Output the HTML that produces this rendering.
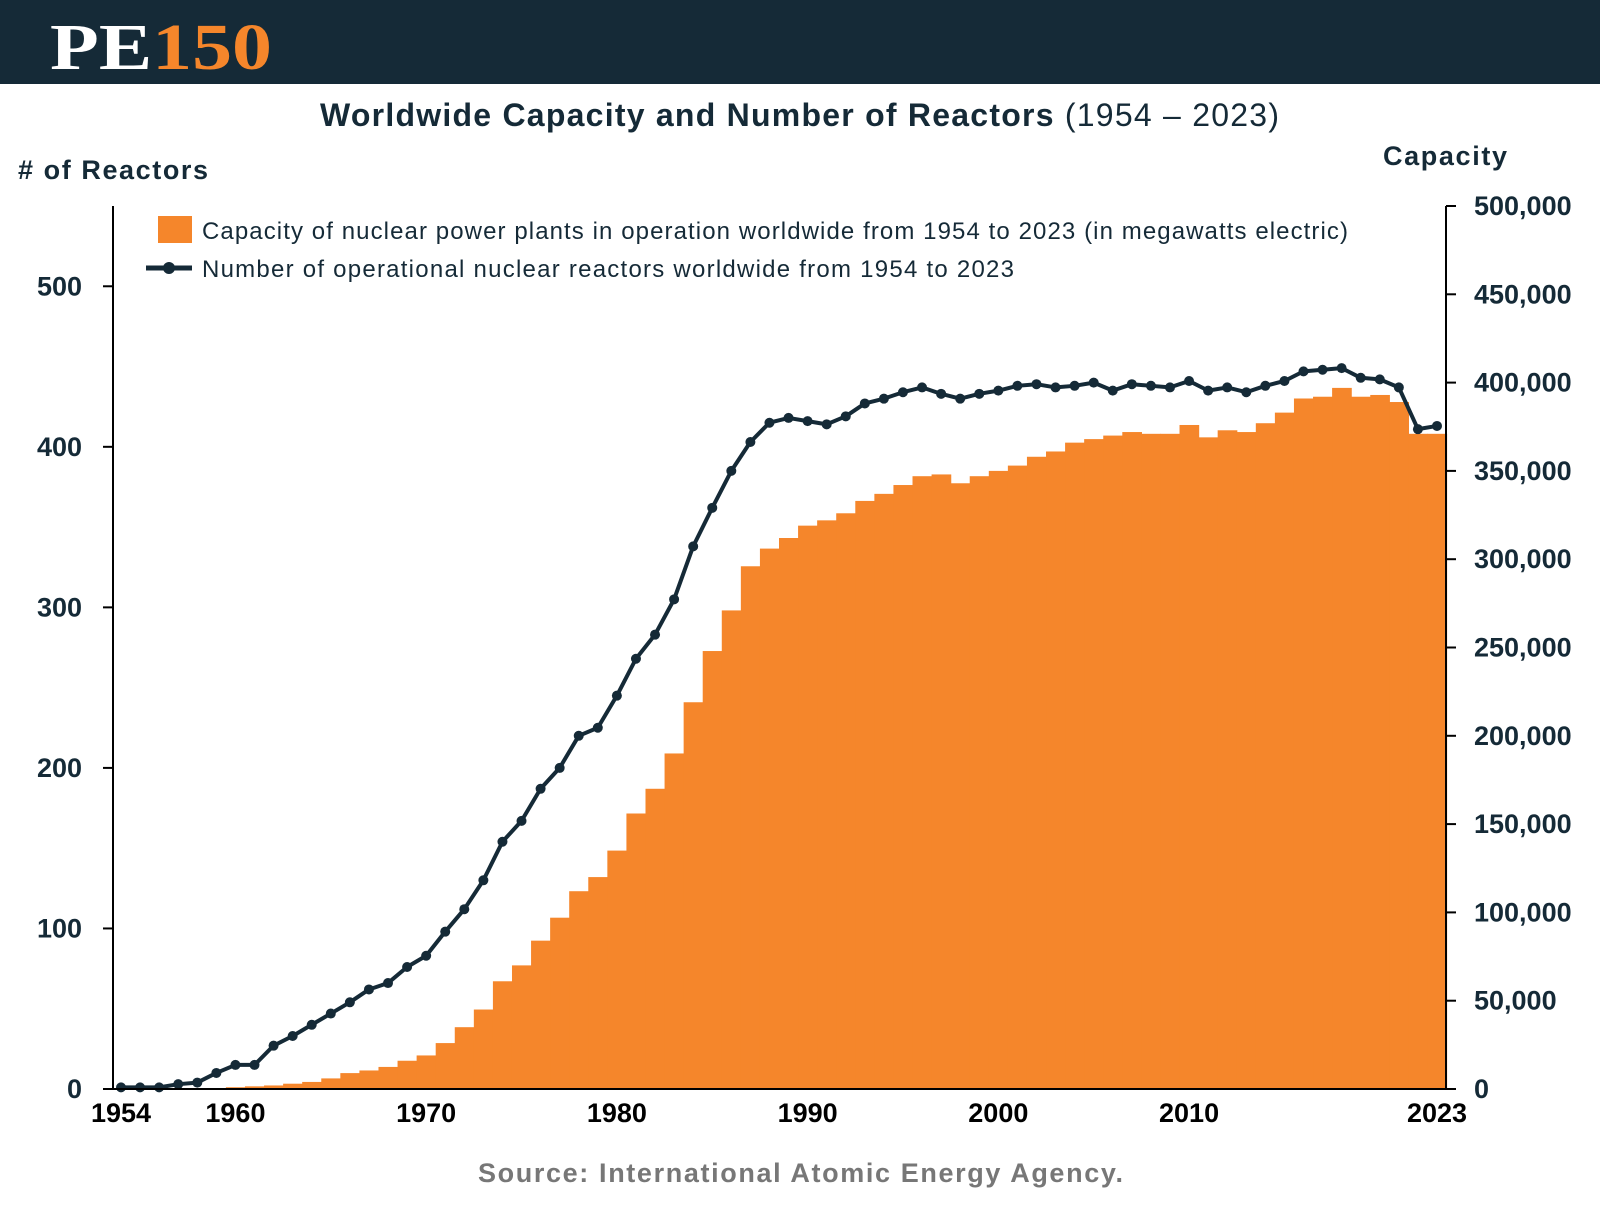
<!DOCTYPE html>
<html><head><meta charset="utf-8"><style>
body{margin:0;width:1600px;height:1200px;background:#fff;overflow:hidden;font-family:"Liberation Sans",sans-serif}
</style></head><body>
<svg id="c" width="1600" height="1200" viewBox="0 0 1600 1200" font-family="Liberation Sans, sans-serif">
<rect x="0" y="0" width="1600" height="84" fill="#152a37"/>
<text x="50" y="69" style="font-family:'Liberation Serif',serif" font-weight="bold" font-size="66" fill="#fff" textLength="222" lengthAdjust="spacingAndGlyphs">PE<tspan fill="#f5862b">150</tspan></text>
<text x="320" y="126" font-size="32" font-weight="bold" fill="#152a37" textLength="959">Worldwide Capacity and Number of Reactors <tspan font-weight="normal">(1954 – 2023)</tspan></text>
<text x="18" y="179" font-size="27" font-weight="bold" fill="#152a37" textLength="190"># of Reactors</text>
<text x="1383" y="165" font-size="27" font-weight="bold" fill="#152a37" textLength="124">Capacity</text>
<text x="478" y="1182" font-size="27" font-weight="bold" fill="#777" textLength="645">Source: International Atomic Energy Agency.</text>
<g id="bars"></g><g id="line"></g><g id="axes"></g>
<rect x="158" y="216" width="34" height="27" fill="#f5862b"/>
<text x="202" y="239" font-size="24" fill="#152a37" textLength="1146">Capacity of nuclear power plants in operation worldwide from 1954 to 2023 (in megawatts electric)</text>
<line x1="146" y1="268" x2="192" y2="268" stroke="#152a37" stroke-width="5"/>
<circle cx="169" cy="268" r="6" fill="#152a37"/>
<text x="202" y="277" font-size="24" fill="#152a37" textLength="812">Number of operational nuclear reactors worldwide from 1954 to 2023</text>
</svg>
<script>
const years=[];for(let y=1954;y<=2023;y++)years.push(y);
const reactors=[1,1,1,3,4,10,15,15,27,33,40,47,54,62,66,76,83,98,112,130,154,167,187,200,220,225,245,268,283,305,338,362,385,403,415,418,416,414,419,427,430,434,437,433,430,433,435,438,439,437,438,440,435,439,438,437,441,435,437,434,438,441,447,448,449,443,442,437,411,413];
const capacity=[5,5,50,100,200,500,1000,1500,2000,3000,4000,6000,9000,10500,12500,16000,19000,26000,35000,45000,61000,70000,84000,97000,112000,120000,135000,156000,170000,190000,219000,248000,271000,296000,306000,312000,319000,322000,326000,333000,337000,342000,347000,348000,343000,347000,350000,353000,358000,361000,366000,368000,370000,372000,371000,371000,376000,369000,373000,372000,377000,383000,391000,392000,397000,392000,393000,389000,371000,371000];
const leftTicks=[0,100,200,300,400,500];
const rightTicks=[0,50000,100000,150000,200000,250000,300000,350000,400000,450000,500000];
const xTicks=[1954,1960,1970,1980,1990,2000,2010,2023];
const NS="http://www.w3.org/2000/svg";
const X0=121,X1=1437,Y0=1089,YT=206;
const x=y=>X0+(y-1954)*(X1-X0)/69;
const bw=(X1-X0)/69;
const yL=v=>Y0-v*(Y0-YT)/550;
const yR=v=>Y0-v*(Y0-YT)/500000;
function mk(t,a,p){const e=document.createElementNS(NS,t);for(const k in a)e.setAttribute(k,a[k]);p.appendChild(e);return e;}
const gb=document.getElementById('bars'),gl=document.getElementById('line'),ga=document.getElementById('axes');
years.forEach((yr,i)=>{const r=mk('rect',{x:x(yr)-bw/2,y:yR(capacity[i]),width:bw+0.6,height:Y0-yR(capacity[i]),fill:'#f5862b'},gb);

});
const pl=mk('polyline',{points:years.map((yr,i)=>x(yr)+','+yL(reactors[i])).join(' '),fill:'none',stroke:'#152a37','stroke-width':4,'stroke-linejoin':'round'},gl);


years.forEach((yr,i)=>{const c=mk('circle',{cx:x(yr),cy:yL(reactors[i]),r:5,fill:'#152a37'},gl);

});
const la=mk('line',{x1:113,y1:YT,x2:113,y2:Y0,stroke:'#000','stroke-width':2},ga);


const ra=mk('line',{x1:1446,y1:YT,x2:1446,y2:Y0,stroke:'#000','stroke-width':2},ga);


const xa=mk('line',{x1:113,y1:Y0,x2:1455,y2:Y0,stroke:'#000','stroke-width':2},ga);


leftTicks.forEach(v=>{mk('line',{x1:103,y1:yL(v),x2:113,y2:yL(v),stroke:'#000','stroke-width':2},ga);
const t=mk('text',{x:82,y:yL(v)+9,'text-anchor':'end','font-size':27,'font-weight':'bold',fill:'#152a37'},ga);t.textContent=v;

});
rightTicks.forEach(v=>{mk('line',{x1:1446,y1:yR(v),x2:1456,y2:yR(v),stroke:'#000','stroke-width':2},ga);
const t=mk('text',{x:1474,y:yR(v)+9,'font-size':27,'font-weight':'bold',fill:'#152a37'},ga);t.textContent=v.toLocaleString('en-US');

});
xTicks.forEach(v=>{const t=mk('text',{x:x(v),y:1122,'text-anchor':'middle','font-size':27,'font-weight':'bold',fill:'#000'},ga);t.textContent=v;

});
</script>
</body></html>
